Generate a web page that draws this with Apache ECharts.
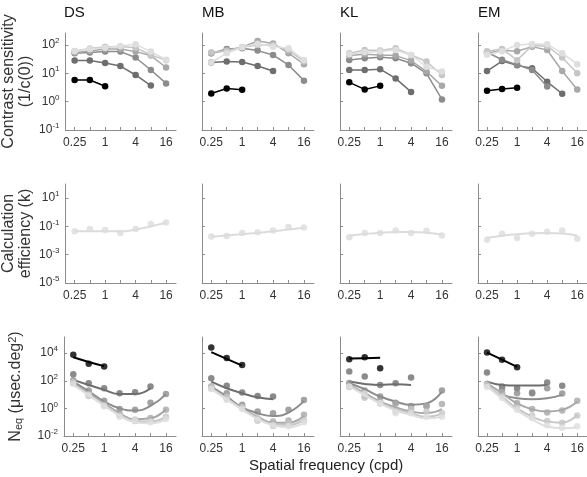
<!DOCTYPE html>
<html><head><meta charset="utf-8">
<script src="https://cdn.jsdelivr.net/npm/echarts@6/dist/echarts.min.js"></script>
<style>html,body{margin:0;padding:0;background:#fff}#c{width:587px;height:477px}</style>
</head><body><div id="c"></div><script>
// ---------- data ----------
const observers = ['DS', 'MB', 'KL', 'EM'];
const freqs = [0.25, 0.5, 1, 2, 4, 8, 16];
const xTickLabels = [0.25, 1, 4, 16];
const csTicks = [0.1, 1, 10, 100];
const effTicks = [1e-5, 1e-3, 1e-1, 1e1];
const neqTicks = [1e-2, 1, 1e2, 1e4];

// Contrast sensitivity, 6 luminance levels (dark -> light), values at freqs (from 0.25 on)
const csDS = [[5.8, 5.8, 3.5], [28, 28, 23, 18, 8.7, 3.7], [51, 54, 58, 58, 36, 13, 4.4], [54, 61, 72, 72, 58, 42, 16], [61, 75, 87, 88, 80, 44, 29], [60, 72, 80, 92, 105, 58, 30]];
const csMB = [[1.95, 2.9, 2.6], [24, 26, 25, 18, 12], [51, 72, 76, 63, 44, 19.6, 5.5], [51, 63, 83, 138, 113, 51, 21], [55, 62, 83, 100, 100, 66, 26], [24, 51, 83, 109, 87, 76, 29.5]];
const csKL = [[4.8, 2.7, 3.6], [13, 13, 14, 6.6, 2.2], [29.5, 34, 37, 34, 22.6, 10, 1.2], [42, 47, 44, 42, 28, 11.5, 3.6], [51, 66, 63, 76, 44, 26, 8.7], [47, 55, 58, 66, 44, 17, 11.5]];
const csEM = [[2.4, 2.8, 3.1], [12, 27, 19, 15, 5, 1.9], [55, 30, 20, 13, 3.4], [51, 65, 60, 87, 66, 12, 2.7], [60, 72, 29, 95, 90, 36, 10], [45, 60, 100, 108, 105, 51, 21]];

// Calculation efficiency (points and fitted curve)
const effPtsDS = [0.045, 0.066, 0.055, 0.034, 0.066, 0.148, 0.19];
const effFitDS = [0.045, 0.046, 0.045, 0.045, 0.06, 0.1, 0.18];
const effPtsMB = [0.0196, 0.021, 0.034, 0.038, 0.052, 0.091, 0.085];
const effFitMB = [0.019, 0.023, 0.028, 0.035, 0.045, 0.06, 0.08];
const effPtsKL = [0.017, 0.034, 0.034, 0.052, 0.034, 0.05, 0.023];
const effFitKL = [0.022, 0.029, 0.036, 0.04, 0.04, 0.036, 0.027];
const effPtsEM = [0.0115, 0.030, 0.015, 0.030, 0.042, 0.052, 0.0135];
const effFitEM = [0.015, 0.022, 0.028, 0.033, 0.035, 0.032, 0.022];

// Equivalent noise, points and fitted curves, 6 luminance levels
const neqPtsDS = [[7600, 1700, 1070], [300, 66, 29, 12.6, 15, 38], [110, 20, 3.5, 0.9, 0.8, 2.6, 11], [70, 9, 2, 0.4, 0.15, 0.2, 0.8], [80, 8, 1.6, 0.3, 0.12, 0.12, 0.25], [60, 10, 1.4, 0.25, 0.14, 0.1, 0.17]];
const neqFitDS = [[5000, 2300, 1150], [117, 50, 22, 11, 11, 29], [87, 17, 3.1, 1.0, 0.7, 1.5, 10.7], [66, 12.6, 2.3, 0.45, 0.16, 0.19, 0.87], [55, 10, 1.8, 0.35, 0.12, 0.11, 0.25], [50, 9, 1.6, 0.3, 0.1, 0.083, 0.16]];
const neqPtsMB = [[25700, 4400, 1400], [155, 43, 14, 8, 7.2], [38, 12.6, 1.8, 0.59, 0.45, 0.78, 4.1], [29, 5.5, 1.35, 0.13, 0.11, 0.13, 0.34], [35, 7, 1.2, 0.2, 0.054, 0.08, 0.13], [25, 4, 0.9, 0.15, 0.06, 0.05, 0.1]];
const neqFitMB = [[12000, 3900, 1250], [87, 29, 12.6, 6.3, 4.6], [38, 7.2, 1.2, 0.45, 0.28, 0.5, 3.5], [29, 5.5, 1.0, 0.25, 0.093, 0.093, 0.28], [30, 5, 0.9, 0.2, 0.07, 0.063, 0.16], [25, 4.5, 0.8, 0.17, 0.06, 0.043, 0.093]];
const neqPtsKL = [[3600, 5100, 810], [470, 200, 50, 66, 170], [70, 20, 7.2, 2.6, 1.5, 1.5, 19.5], [38, 7.2, 3.1, 2.3, 0.78, 1.5, 2.1], [35, 6, 2.3, 0.59, 0.9, 0.59, 0.45], [38, 12, 2.5, 0.45, 0.45, 0.25, 0.25]];
const neqFitKL = [[4100, 4350, 4600], [87, 59, 50, 56, 50], [66, 24.5, 7.2, 3.1, 1.8, 2.3, 16.6], [50, 12.6, 3.1, 1.2, 0.59, 0.45, 0.87], [45, 10, 2.5, 0.9, 0.45, 0.25, 0.4], [40, 9, 2.2, 0.7, 0.34, 0.19, 0.25]];
const neqPtsEM = [[11200, 3300, 960], [400, 38, 29, 12.6, 74, 43], [null, 25, 12.6, 14, 29, 12], [60, 15, 2.5, 0.9, 0.5, 0.7, 3.5], [45, 8, 1.2, 0.3, 0.12, 0.093, 0.3], [35, 6, 0.8, 0.2, 0.06, 0.04, 0.05]];
const neqFitEM = [[11000, 3400, 1000], [87, 50, 45, 45, 50], [null, 9.5, 5.5, 4.6, 5.5, 9.5], [66, 12.6, 2.3, 0.87, 0.59, 0.78, 3.1], [50, 7.2, 1.0, 0.25, 0.11, 0.093, 0.34], [40, 5, 0.7, 0.16, 0.048, 0.036, 0.043]];

// ---------- styling / layout ----------
const levelColors = ['#000000', '#6e6e6e', '#8c8c8c', '#a8a8a8', '#c6c6c6', '#dedede'];
const effColor = '#dcdcdc';
const FONT = 'Liberation Sans, Arial, Helvetica, sans-serif';
const colLeft = [64, 202, 340, 478];
const rowTop = [33, 184, 337];
const rowH = [97, 99, 99];
const yMin = [0.1, 1e-5, 1e-2];
const yMax = [Math.pow(10, 2.42), 100, Math.pow(10, 5.17)];
const yTicks = [csTicks, effTicks, neqTicks];
const csAll = [csDS, csMB, csKL, csEM];
const effPtsAll = [effPtsDS, effPtsMB, effPtsKL, effPtsEM];
const effFitAll = [effFitDS, effFitMB, effFitKL, effFitEM];
const neqPtsAll = [neqPtsDS, neqPtsMB, neqPtsKL, neqPtsEM];
const neqFitAll = [neqFitDS, neqFitMB, neqFitKL, neqFitEM];

const pairs = vals => vals.map((v, i) => [freqs[i], v]).filter(p => p[1] != null);

const supRich = {
  b: {fontSize: 12, color: '#333', fontFamily: FONT, lineHeight: 16},
  s: {fontSize: 8, color: '#333', fontFamily: FONT, verticalAlign: 'top', lineHeight: 10, padding: [0, 0, 6, 0]}
};
const supFmt = v => '{b|10}{s|' + Math.round(Math.log10(v)) + '}';

const nameRich = {
  n: {fontSize: 16, color: '#333', fontFamily: FONT, lineHeight: 17},
  sub: {fontSize: 11, color: '#333', fontFamily: FONT, verticalAlign: 'bottom', lineHeight: 12, padding: [6, 0, 0, 0]},
  sup: {fontSize: 11, color: '#333', fontFamily: FONT, verticalAlign: 'top', lineHeight: 12, padding: [0, 0, 6, 0]}
};
const yNames = [
  '{n|Contrast sensitivity}\n{n|(1/c(0))}',
  '{n|Calculation}\n{n|efficiency (k)}',
  '{n|N}{sub|eq}{n| (μsec.deg}{sup|2}{n|)}'
];
const yNameGap = [31, 31, 40];

const grids = [], xAxes = [], yAxes = [], series = [];
for (let r = 0; r < 3; r++) {
  for (let c = 0; c < 4; c++) {
    const idx = r * 4 + c;
    grids.push({left: colLeft[c], top: rowTop[r], width: 112, height: rowH[r], containLabel: false});
    xAxes.push({
      type: 'log', logBase: 2, gridIndex: idx,
      min: Math.pow(2, -2.6), max: Math.pow(2, 4.65),
      axisLine: {show: true, onZero: false, lineStyle: {color: '#8c8c8c', width: 1}},
      axisTick: {show: true, inside: true, length: 3, customValues: freqs, lineStyle: {color: '#8c8c8c'}},
      minorTick: {show: false},
      splitLine: {show: false},
      axisLabel: {customValues: xTickLabels, formatter: v => String(+v.toPrecision(3)), color: '#333', fontSize: 12, fontFamily: FONT, margin: 7}
    });
    yAxes.push({
      type: 'log', logBase: 10, gridIndex: idx,
      min: yMin[r], max: yMax[r],
      axisLine: {show: true, onZero: false, lineStyle: {color: '#8c8c8c', width: 1}},
      axisTick: {show: true, inside: true, length: 3, customValues: yTicks[r], lineStyle: {color: '#8c8c8c'}},
      minorTick: {show: false},
      splitLine: {show: false},
      axisLabel: {show: c === 0, customValues: yTicks[r], formatter: supFmt, rich: supRich, margin: 6},
      name: c === 0 ? yNames[r] : '',
      nameLocation: 'middle', nameRotate: 90, nameGap: yNameGap[r],
      nameTextStyle: {rich: nameRich, align: 'center'}
    });
    if (r === 0) {
      csAll[c].forEach((vals, k) => {
        series.push({
          type: 'line', xAxisIndex: idx, yAxisIndex: idx, data: pairs(vals),
          symbol: 'circle', symbolSize: 6.5, showSymbol: true,
          lineStyle: {color: levelColors[k], width: 1.5},
          itemStyle: {color: levelColors[k], borderWidth: 0},
          z: 2 + k, silent: true, animation: false
        });
      });
    } else if (r === 1) {
      series.push({
        type: 'line', xAxisIndex: idx, yAxisIndex: idx, data: pairs(effFitAll[c]),
        smooth: 0.5, showSymbol: false, lineStyle: {color: effColor, width: 2}, z: 2, silent: true, animation: false
      });
      series.push({
        type: 'scatter', xAxisIndex: idx, yAxisIndex: idx, data: pairs(effPtsAll[c]),
        symbol: 'circle', symbolSize: 6.5, itemStyle: {color: effColor}, z: 3, silent: true, animation: false
      });
    } else {
      neqFitAll[c].forEach((vals, k) => {
        series.push({
          type: 'line', xAxisIndex: idx, yAxisIndex: idx, data: pairs(vals),
          smooth: 0.5, showSymbol: false, lineStyle: {color: levelColors[k], width: 2},
          z: 2 + k, silent: true, animation: false
        });
      });
      neqPtsAll[c].forEach((vals, k) => {
        series.push({
          type: 'scatter', xAxisIndex: idx, yAxisIndex: idx, data: pairs(vals),
          symbol: 'circle', symbolSize: 6.5, itemStyle: {color: levelColors[k]},
          z: 2 + k, silent: true, animation: false
        });
      });
    }
  }
}

const graphics = observers.map((o, c) => ({
  type: 'text', left: colLeft[c], top: 5,
  style: {text: o, fontSize: 15, fontFamily: FONT, fill: '#111'}
}));
graphics.push({
  type: 'text', left: 249, top: 458,
  style: {text: 'Spatial frequency (cpd)', fontSize: 15, fontFamily: FONT, fill: '#222'}
});

const chart = echarts.init(document.getElementById('c'), null, {renderer: 'canvas'});
chart.setOption({
  animation: false,
  backgroundColor: '#fff',
  grid: grids, xAxis: xAxes, yAxis: yAxes, series: series, graphic: graphics
});
</script></body></html>
